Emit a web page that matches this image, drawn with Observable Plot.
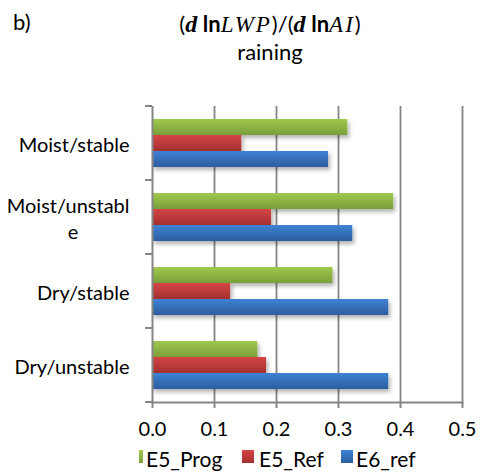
<!DOCTYPE html>
<html><head><meta charset="utf-8">
<script src="https://cdn.jsdelivr.net/npm/d3@7"></script>
<script src="https://cdn.jsdelivr.net/npm/@observablehq/plot@0.6"></script>
<style>
body{margin:0;background:#fff;}
#wrap{position:relative;width:486px;height:473px;overflow:hidden;font-family:Lato,"Open Sans",sans-serif;color:#000;}
#chart{position:absolute;left:0;top:0;}
#chart svg text{fill:#000;}
#panel{position:absolute;left:13px;top:9px;font-size:22px;line-height:26px;}
#title{position:absolute;left:0;width:540px;top:13px;text-align:center;font-size:22px;line-height:22px;white-space:nowrap;}
#title .m{font-family:"Liberation Serif","DejaVu Serif",serif;font-style:italic;font-size:23px;letter-spacing:2px;}
#title .d{font-family:"Liberation Serif",serif;font-style:italic;font-weight:bold;font-size:24px;}
#sub{position:absolute;left:0;width:540px;top:40px;text-align:center;font-size:22px;line-height:24px;}
.lg{position:absolute;top:447px;font-size:21px;line-height:24px;white-space:nowrap;}
.sw{position:absolute;top:450px;width:12px;height:13px;}
</style></head>
<body>
<div id="wrap">
  <div id="chart"></div>
  <div id="panel">b)</div>
  <div id="title">(<span class="d">d</span> <b>ln</b><span class="m">LWP</span>)/(<span class="d">d</span> <b>ln</b><span class="m">AI</span>)</div>
  <div id="sub">raining</div>
  <div id="legend"></div>
</div>
<script>
// ---- data ----
const categories = ["Moist/stable", "Moist/unstable", "Dry/stable", "Dry/unstable"];
const seriesNames = ["E5_Prog", "E5_Ref", "E6_ref"];
const e5Prog = [0.315, 0.389, 0.291, 0.170];
const e5Ref  = [0.144, 0.192, 0.126, 0.184];
const e6Ref  = [0.284, 0.323, 0.381, 0.381];
const xTicks = [0, 0.1, 0.2, 0.3, 0.4, 0.5];
const seriesValues = [e5Prog, e5Ref, e6Ref];

const gradients = {
  E5_Prog: ["#a0c94e", "#7b9e3a"],
  E5_Ref:  ["#d44545", "#a53030"],
  E6_ref:  ["#3f82d3", "#2c5e9f"]
};

const data = categories.flatMap((c, i) =>
  seriesNames.map((s, j) => ({category: c, series: s, value: seriesValues[j][i]})));

// wrap long labels like Excel does (centered lines)
function wrapLabel(s) {
  if (s.length <= 13) return s;
  const a = s.slice(0, 13), b = s.slice(13);
  return a + "\n" + b + "\u00a0".repeat(10);
}

const W = 486, H = 473, mT = 106, mB = 71, mL = 152, mR = 24;

const chart = Plot.plot({
  width: W, height: H,
  marginTop: mT, marginBottom: mB, marginLeft: mL, marginRight: mR,
  style: {fontFamily: "Lato, 'Open Sans', sans-serif", fontSize: "20px", color: "#868686", background: "transparent"},
  facet: {data, y: "category"},
  fy: {domain: categories, padding: 0, axis: null, label: null},
  y: {domain: seriesNames, paddingInner: 0, paddingOuter: 0.68, axis: null, label: null},
  x: {domain: [0, 0.5], ticks: xTicks, tickFormat: d3.format(".1f"), tickSize: 6, tickPadding: 13, line: true, label: null},
  color: {domain: seriesNames, range: seriesNames.map((s, j) => `url(#grad${j})`)},
  marks: [
    Plot.ruleX(xTicks.slice(1), {stroke: "#858585", strokeWidth: 1.8}),
    Plot.barX(data, {x: "value", y: "series", fill: "series"}),
    Plot.ruleX([0], {stroke: "#858585", strokeWidth: 2}),
    Plot.text(data, Plot.selectFirst({
      text: d => wrapLabel(d.category), frameAnchor: "left", textAnchor: "end",
      dx: -23, lineHeight: 1.3, fill: "#000"
    }))
  ]
});
document.getElementById("chart").appendChild(chart);

// gradients + shadow
const svg = d3.select(chart.tagName.toLowerCase() === "svg" ? chart : chart.querySelector("svg"));
const defs = svg.insert("defs", ":first-child");
seriesNames.forEach((s, j) => {
  const g = defs.append("linearGradient").attr("id", `grad${j}`).attr("x1", 0).attr("y1", 0).attr("x2", 0).attr("y2", 1);
  g.append("stop").attr("offset", "0%").attr("stop-color", gradients[s][0]);
  g.append("stop").attr("offset", "100%").attr("stop-color", gradients[s][1]);
});
const f = defs.append("filter").attr("id", "shadow").attr("x", "-10%").attr("y", "-30%").attr("width", "130%").attr("height", "180%");
f.append("feDropShadow").attr("dx", 2).attr("dy", 3).attr("stdDeviation", 2).attr("flood-color", "#000").attr("flood-opacity", 0.3);
svg.selectAll("rect").filter(function() { return (this.getAttribute("fill") || "").startsWith("url(#grad"); })
  .attr("filter", "url(#shadow)");
// axis tick/line width
svg.selectAll("line, path").filter(function(){ return !this.closest("defs"); })
  .each(function(){ if (this.getAttribute("stroke") === "currentColor" || this.closest("[stroke=currentColor]")) d3.select(this).attr("stroke-width", 2); });

// category boundary ticks on the left axis
const fyBand = d3.scaleBand().domain(categories).range([mT, H - mB]).padding(0);
const bounds = categories.map(c => fyBand(c)).concat([H - mB]);
svg.append("g").selectAll("line").data(bounds).join("line")
  .attr("x1", mL - 7).attr("x2", mL).attr("y1", d => d).attr("y2", d => d)
  .attr("stroke", "#858585").attr("stroke-width", 2);

// legend
const legend = document.getElementById("legend");
const legendPos = [{sw: 131, tx: 146}, {sw: 242, tx: 259}, {sw: 341, tx: 356}];
seriesNames.forEach((s, j) => {
  const sw = document.createElement("div");
  sw.className = "sw";
  sw.style.left = legendPos[j].sw + "px";
  sw.style.background = `linear-gradient(${gradients[s][0]}, ${gradients[s][1]})`;
  legend.appendChild(sw);
  const t = document.createElement("div");
  t.className = "lg";
  t.style.left = legendPos[j].tx + "px";
  t.textContent = s;
  legend.appendChild(t);
});
// clip the first swatch like the reference (partly hidden)
legend.firstChild.style.clipPath = "inset(0 0 0 8px)";
</script>
</body></html>
